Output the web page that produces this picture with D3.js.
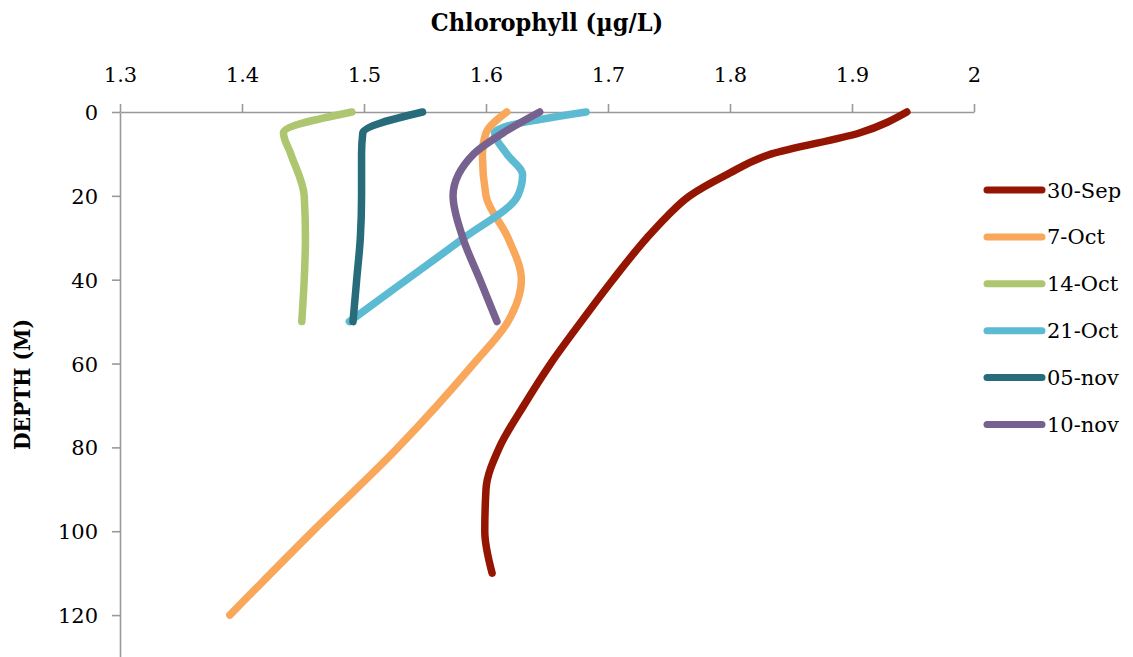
<!DOCTYPE html>
<html>
<head>
<meta charset="utf-8">
<script src="https://cdn.jsdelivr.net/npm/d3@7"></script>
<style>
  body { margin: 0; background: #fff; }
  svg { display: block; }
  .tick text { font-family: "DejaVu Serif", serif; font-size: 21px; fill: #000; }
</style>
</head>
<body>
<svg></svg>
<script>
// series labels and colours
const seriesNames = ['30-Sep', '7-Oct', '14-Oct', '21-Oct', '05-nov', '10-nov'];
const seriesColors = ['#941502', '#f9a75a', '#adc66f', '#5cbad2', '#286c7b', '#77618f'];

// depth (m) and chlorophyll (ug/L) for each cast
const sep30Depth = [0, 5, 10, 15, 20, 25, 30, 40, 50, 60, 70, 80, 90, 100, 110];
const sep30Chl = [1.945, 1.906, 1.834, 1.797, 1.767, 1.748, 1.732, 1.704, 1.678, 1.653, 1.631, 1.611, 1.600, 1.599, 1.605];

const oct7Depth = [0, 5, 10, 20, 30, 40, 50, 60, 80, 100, 120];
const oct7Chl = [1.617, 1.600, 1.597, 1.600, 1.618, 1.629, 1.618, 1.590, 1.528, 1.458, 1.390];

const oct14Depth = [0, 5, 10, 20, 30, 40, 50];
const oct14Chl = [1.490, 1.434, 1.440, 1.451, 1.452, 1.451, 1.449];

const oct21Depth = [0, 5, 10, 15, 20, 30, 40, 50];
const oct21Chl = [1.682, 1.607, 1.617, 1.630, 1.626, 1.582, 1.535, 1.488];

const nov05Depth = [0, 5, 10, 20, 30, 40, 50];
const nov05Chl = [1.548, 1.499, 1.498, 1.498, 1.497, 1.494, 1.491];

const nov10Depth = [0, 5, 10, 20, 30, 40, 50];
const nov10Chl = [1.644, 1.614, 1.590, 1.573, 1.581, 1.595, 1.609];

// axis ticks
const xTicks = [1.3, 1.4, 1.5, 1.6, 1.7, 1.8, 1.9, 2];
const yTicks = [0, 20, 40, 60, 80, 100, 120];

const s = {
  width: 1133,
  height: 657,
  left: 120,
  right: 974,
  top: 112,
  bottom: 657,
};

const series = [
  [sep30Depth, sep30Chl],
  [oct7Depth, oct7Chl],
  [oct14Depth, oct14Chl],
  [oct21Depth, oct21Chl],
  [nov05Depth, nov05Chl],
  [nov10Depth, nov10Chl],
].map(([depth, chl], i) => ({
  name: seriesNames[i],
  color: seriesColors[i],
  points: depth.map((d, j) => ({ depth: d, chl: chl[j] })),
}));

const svg = d3.select('svg')
    .attr('width', s.width)
    .attr('height', s.height);

const x = d3.scaleLinear().domain([1.3, 2]).range([s.left, s.right]);
const y = d3.scaleLinear().domain([0, 130]).range([s.top, s.bottom]);

// x axis along the top
const xAxis = svg.append('g')
    .attr('transform', `translate(0,${s.top})`)
    .call(d3.axisTop(x)
      .tickValues(xTicks)
      .tickFormat(d => String(+d.toFixed(1)))
      .tickSize(8)
      .tickSizeOuter(0)
      .tickPadding(22));

// y axis, depth increasing downwards
const yAxis = svg.append('g')
    .attr('transform', `translate(${s.left},0)`)
    .call(d3.axisLeft(y)
      .tickValues(yTicks)
      .tickSize(8)
      .tickSizeOuter(0)
      .tickPadding(14));

svg.selectAll('.domain, .tick line')
    .attr('stroke', '#999')
    .attr('stroke-width', 1.6);
svg.selectAll('.tick text').attr('font-family', null).attr('font-size', null);
yAxis.selectAll('.tick text').attr('dy', '0.36em');

// profiles - depth is the independent variable, so smooth along y
const line = d3.line()
    .x(d => x(d.chl))
    .y(d => y(d.depth))
    .curve(d3.curveMonotoneY);

svg.append('g')
  .selectAll('path')
  .data(series)
  .join('path')
    .attr('d', d => line(d.points))
    .attr('fill', 'none')
    .attr('stroke', d => d.color)
    .attr('stroke-width', 7.5)
    .attr('stroke-linecap', 'round')
    .attr('stroke-linejoin', 'round');

// axis titles
svg.append('text')
    .attr('x', (s.left + s.right) / 2)
    .attr('y', 31)
    .attr('text-anchor', 'middle')
    .attr('font-family', '"DejaVu Serif Condensed", "DejaVu Serif", serif')
    .attr('font-stretch', 'condensed')
    .attr('font-weight', 'bold')
    .attr('font-size', 25)
    .text('Chlorophyll (µg/L)');

svg.append('text')
    .attr('transform', `translate(30,${(s.top + s.bottom) / 2}) rotate(-90)`)
    .attr('text-anchor', 'middle')
    .attr('font-family', '"DejaVu Serif Condensed", "DejaVu Serif", serif')
    .attr('font-stretch', 'condensed')
    .attr('font-weight', 'bold')
    .attr('font-size', 22.5)
    .text('DEPTH (M)');

// legend
const legend = svg.append('g')
    .attr('transform', 'translate(987,190)');

const item = legend.selectAll('g')
  .data(series)
  .join('g')
    .attr('transform', (d, i) => `translate(0,${i * 46.9})`);

item.append('line')
    .attr('x1', 0)
    .attr('x2', 55)
    .attr('stroke', d => d.color)
    .attr('stroke-width', 7)
    .attr('stroke-linecap', 'round');

item.append('text')
    .attr('x', 60)
    .attr('dy', '0.36em')
    .attr('font-family', '"DejaVu Serif", serif')
    .attr('font-size', 21)
    .text(d => d.name);
</script>
</body>
</html>
